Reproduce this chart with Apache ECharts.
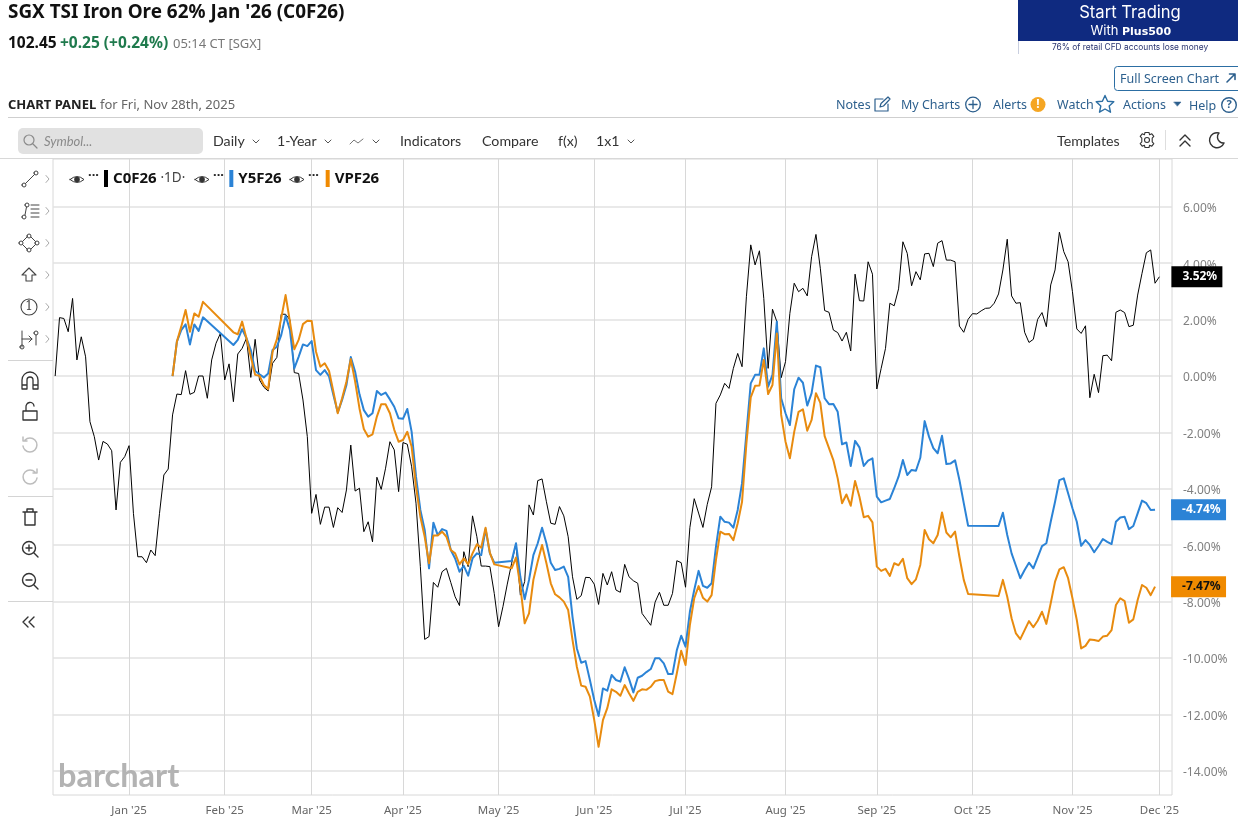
<!DOCTYPE html>
<html><head><meta charset="utf-8">
<style>html,body{margin:0;padding:0;background:#fff}#c{width:1238px;height:818px}</style>
<script src="https://cdn.jsdelivr.net/npm/echarts@6/dist/echarts.min.js"></script>
</head><body><div id="c"></div>
<script>
const monthTickIndex=[17,39,59,80,102,124,145,168,189,211,234,254];
const monthTickLabels=["Jan '25","Feb '25","Mar '25","Apr '25","May '25","Jun '25","Jul '25","Aug '25","Sep '25","Oct '25","Nov '25","Dec '25"];
const percentTicks=[-14,-12,-10,-8,-6,-4,-2,0,2,4,6];
const seriesNames=['C0F26','Y5F26','VPF26'];
const c0f26=[0,2.07,2.04,1.57,2.75,0.57,1.39,0.68,-1.62,-2.15,-2.98,-2.32,-2.41,-2.65,-4.75,-3.06,-2.86,-2.47,-4.87,-6.41,-6.41,-6.62,-6.17,-6.37,-4.87,-3.51,-3.30,-1.38,-0.64,-0.66,0.19,-0.65,-0.58,0,0,-0.79,0.57,1.16,1.51,-0.14,0.43,-0.91,0.78,0.98,1.34,-0.05,1.30,-0.14,-0.40,-0.53,0.45,0.66,2.19,2.19,1.99,0.12,0.09,-0.85,-2.15,-4.87,-4.20,-5.26,-4.65,-4.65,-5.37,-4.67,-4.84,-4.04,-2.45,-4.08,-3.98,-5.52,-5.17,-5.88,-3.59,-4.02,-3.27,-2.33,-2.62,-4.10,-2.36,-2.42,-3.22,-4.51,-6.76,-9.34,-9.24,-7.32,-7.49,-6.94,-6.82,-7.32,-7.83,-8.14,-6.23,-6.76,-4.96,-5.70,-6.74,-6.74,-6.76,-7.71,-8.89,-8.18,-7.38,-6.64,-5.93,-7.77,-7.29,-4.57,-4.93,-3.71,-3.65,-4.46,-5.22,-5.26,-4.63,-4.96,-5.70,-7.12,-7.92,-7.79,-7.14,-7.15,-7.38,-8.10,-7.00,-7.41,-6.94,-7.59,-7.67,-6.68,-7.12,-7.26,-7.35,-8.42,-8.63,-8.84,-8.02,-7.67,-8.13,-8.13,-7.71,-6.55,-6.62,-7.49,-5.37,-4.35,-4.86,-5.37,-4.55,-3.93,-0.97,-0.67,-0.26,-0.44,0.27,0.80,0.33,2.81,4.65,3.94,4.44,2.75,0.27,2.37,1.93,-0.06,0.51,2.22,3.29,2.99,3.11,2.84,4.23,5.02,3.82,2.32,2.26,1.63,1.54,1.24,1.55,0.89,3.61,2.67,2.66,4.05,3.61,-0.46,0.27,0.98,2.58,2.49,3.09,4.76,4.35,3.20,3.70,3.41,4.33,4.35,3.88,4.71,4.80,4.11,4.11,4.05,1.77,1.55,2.01,2.21,2.20,2.31,2.40,2.41,2.58,2.91,3.76,4.85,2.84,2.58,2.60,1.55,1.19,1.30,2.01,2.25,1.75,3.23,3.76,5.10,4.41,4.05,2.99,1.67,1.51,1.78,-0.77,0.06,-0.59,0.72,0.74,0.54,2.26,2.34,2.25,1.75,1.80,2.87,3.64,4.37,4.47,3.29,3.52];
const y5f26=[null,null,null,null,null,null,null,null,null,null,null,null,null,null,null,null,null,null,null,null,null,null,null,null,null,null,null,0,1.22,1.63,1.83,1.12,1.83,1.60,2.08,null,null,null,null,null,null,1.10,1.28,1.66,1.34,0.92,0.18,0.06,-0.05,0.09,0.92,1.04,1.45,2.14,1.63,0.27,0.68,1.12,1.06,1.24,0.21,0.04,0.21,-0.02,-0.67,-1.29,-0.85,-0.32,0.67,0.15,-0.65,-1.21,-1.44,-1.32,-0.53,-0.67,-0.59,-0.83,-1.09,-1.50,-1.52,-1.17,-1.98,-3.57,-4.75,-5.46,-6.82,-5.20,-5.64,-5.43,-5.49,-6.17,-6.47,-6.94,-6.73,-7.08,-6.47,-6.29,-6.35,-5.43,-6.29,-6.62,null,null,null,-6.56,-5.93,-7.12,-7.92,-7.23,-6.35,-5.93,-5.38,-5.93,-6.62,-6.88,-6.84,-6.76,-7.12,-8.54,-9.66,-10.17,-10.11,-10.78,-11.49,-12.06,-11.08,-11.16,-10.60,-10.78,-10.84,-10.33,-10.74,-11.22,-10.70,-10.63,-10.50,-10.39,-10.01,-10.01,-10.19,-10.57,-10.57,-9.72,-9.21,-9.60,-8.36,-7.59,-6.91,-7.44,-7.51,-7.35,-6.05,-4.99,-5.17,-5.20,-5.38,-4.75,-3.80,-2.03,-0.26,0.04,0.04,0.98,-0.38,0.04,1.93,-0.79,-1.32,-1.74,-0.47,-0.06,-0.24,-1.05,-0.61,0.37,0.31,-0.79,-1.00,-0.99,-1.27,-2.42,-2.36,-3.19,-2.30,-2.53,-3.19,-3.00,-2.92,-4.28,-4.48,-4.42,-4.36,-3.98,-3.57,-2.98,-3.51,-3.33,-3.36,-2.90,-1.60,-2.15,-2.56,-2.74,-2.12,-3.12,-3.10,-2.99,-3.69,-4.51,-5.31,null,null,null,null,null,null,-5.32,-4.85,-5.64,-6.29,-6.73,-7.17,-6.88,-6.62,-6.82,-6.43,-6.03,-5.93,-5.17,-4.46,-3.69,-3.63,-4.16,-4.69,-5.17,-6.02,-5.82,-5.99,-6.25,-6.03,-5.78,-5.88,-5.96,-5.17,-5.02,-4.99,-5.43,-5.32,-4.87,-4.42,-4.51,-4.75,-4.74];
const vpf26=[null,null,null,null,null,null,null,null,null,null,null,null,null,null,null,null,null,null,null,null,null,null,null,null,null,null,null,0,1.22,1.75,2.34,1.57,2.22,2.10,2.63,null,null,null,null,null,null,1.55,1.48,1.93,1.34,0.68,0.04,0.01,-0.32,-0.46,0.85,1.30,2.05,2.87,1.93,0.95,1.28,1.84,1.96,1.95,0.86,0.33,0.45,0.18,-0.56,-1.32,-0.79,-0.20,0.60,-0.20,-1.15,-1.88,-2.15,-2.07,-1.44,-1.00,-1.00,-1.32,-1.91,-2.33,-2.27,-1.98,-2.51,-3.93,-4.99,-5.70,-6.64,-5.66,-5.66,-5.52,-5.70,-6.17,-6.29,-6.68,-6.47,-6.68,-6.29,-5.97,-6.09,-5.38,-6.27,-6.68,null,null,null,-6.82,-6.44,-7.47,-8.77,-8.42,-7.23,-6.58,-5.99,-6.64,-7.35,-7.74,-7.85,-8.00,-8.30,-9.36,-10.31,-10.98,-11.02,-11.37,-12.20,-13.15,-12.20,-11.78,-11.11,-11.20,-11.34,-10.96,-11.25,-11.52,-11.20,-11.11,-11.13,-11.02,-10.82,-10.78,-10.78,-11.19,-11.28,-10.54,-9.74,-10.25,-8.83,-7.88,-7.45,-7.86,-8.00,-7.77,-6.52,-5.52,-5.61,-5.60,-5.82,-5.22,-4.46,-2.39,-0.76,-0.35,-0.34,0.57,-0.64,-0.32,1.51,-1.38,-2.33,-2.92,-1.98,-1.27,-1.18,-1.94,-1.56,-0.61,-0.95,-2.13,-2.56,-2.98,-3.63,-4.51,-4.20,-4.60,-3.72,-4.28,-5.01,-4.96,-5.19,-6.76,-6.91,-6.84,-7.09,-6.64,-6.71,-6.48,-7.17,-7.38,-7.21,-6.70,-5.46,-5.79,-5.93,-5.64,-4.84,-5.55,-5.72,-5.52,-6.41,-7.23,-7.73,null,null,null,null,null,null,-7.80,-7.23,-7.83,-8.59,-9.13,-9.33,-9.01,-8.69,-8.91,-8.68,-8.36,-8.79,-8.06,-7.29,-6.86,-6.78,-7.17,-7.88,-8.65,-9.66,-9.57,-9.34,-9.36,-9.40,-9.24,-9.21,-9.01,-8.12,-7.88,-7.98,-8.75,-8.63,-7.94,-7.41,-7.51,-7.77,-7.47];

const pts=a=>a.map((v,i)=>[i,v]);
const G=[];
const F='"Noto Sans"',L='Lato';
const t=(text,x,y,font,fill,align)=>G.push({type:'text',silent:true,z:10,style:{text,x,y,font,fill:fill||'#222',textAlign:align||'left',textVerticalAlign:'middle'}});
const r=(x,y,w,h,fill,rad,stroke)=>G.push({type:'rect',silent:true,z:9,shape:{x,y,width:w,height:h,r:rad||0},style:{fill:fill||'none',stroke:stroke||null,lineWidth:1}});
let icN=0;
const ic=(d,x,y,stroke,lw,fill)=>{
  const name='tool'+(icN++);
  echarts.graphic.registerShape(name,echarts.graphic.extendPath(d,{}));
  G.push({type:name,silent:true,z:10,x,y,shape:{},style:{fill:fill||'none',stroke:stroke===undefined?'#333':stroke,lineWidth:lw||1.2,lineCap:'round',lineJoin:'round'}});
};
const o=(cx,cy,rd)=>`M${cx-rd} ${cy}A${rd} ${rd} 0 1 0 ${cx+rd} ${cy}A${rd} ${rd} 0 1 0 ${cx-rd} ${cy}Z`;

// header
t("SGX TSI Iron Ore 62% Jan '26 (C0F26)",8,13,'bold 18.9px '+F,'#111');
t('102.45',8,44,'bold 15.5px '+F,'#111');
t('+0.25 (+0.24%)',60,44,'bold 15.5px '+F,'#1f7a4d');
t('05:14 CT [SGX]',173,44,'13px '+F,'#777');
t('CHART PANEL',8,105,'bold 13px '+F,'#222');
t('for Fri, Nov 28th, 2025',100,105,'13px '+F,'#666');
// banner
r(1018,0,220,41,'#0f2a80');
r(1018,41,1,13,'#c9cfe0');
t('Start Trading',1130,13,'16.6px Inter','#fff','center');
t('With',1090.5,31,'13px Inter','#fff');
t('Plus500',1122,32,'bold 11px "DejaVu Sans"','#fff');
t('76% of retail CFD accounts lose money',1130,47.5,'8.4px Inter','#2a3570','center');
// link row
const link='#2c5f8d',lf='12.5px '+F;
r(1114.5,66.5,130,24,'#fff',3,'#2c6ea3');
t('Full Screen Chart',1120,79,lf,link);
ic('M0 8L8 0M2.5 0H8V5.5',1227,74,link,1.6);
t('Notes',836,105.5,lf,link);
ic('M0 2H8M0 2V14H13V7M5 10L6 6.5L13 0L15 2L8.5 9Z',875,97,link,1.2);
t('My Charts',901,105.5,lf,link);
ic(o(973,104.5,7.3)+'M969 104.5H977M973 100.5V108.5',0,0,link,1.3);
t('Alerts',993,105.5,lf,link);
ic(o(1038,104.5,7.5),0,0,null,0,'#f5a623');
t('!',1038,104.5,'bold 12px '+F,'#fff','center');
t('Watch',1057,105.5,lf,link);
ic('M0 -8.5L2.6 -2.8L8.8 -2.2L4.2 2L5.5 8.2L0 5L-5.5 8.2L-4.2 2L-8.8 -2.2L-2.6 -2.8Z',1105,104,'#2c6ea3',1.4);
t('Actions',1123,105.5,lf,link);
ic('M0 0H7L3.5 4Z',1174,102,link,.5,link);
t('Help',1189,106,lf,link);
ic(o(1229,105,7.3),0,0,link,1.4);
t('?',1229,105,'bold 11px '+F,link,'center');
r(8,117,1230,1,'#cfcfcf');
// toolbar
r(18,128,185,26,'#e1e1e1',5);
ic(o(29,140,5)+'M33 144L37 148',0,0,'#8a8a8a',1.2);
t('Symbol...',44,141.5,'italic 13px '+L,'#8a8a8a');
const tb='14.2px '+L;
const chev=x=>ic('M0 0L3 3L6 0',x,140,'#555',1);
t('Daily',213,141.5,tb,'#333');chev(253);
t('1-Year',277,141.5,tb,'#333');chev(325);
ic('M0 5L4 1L8 4L13 0',350,139,'#777',1);chev(373);
t('Indicators',400,141.5,tb,'#333');
t('Compare',482,141.5,tb,'#333');
t('f(x)',558,141.5,tb,'#333');
t('1x1',596,141.5,tb,'#333');chev(628);
t('Templates',1057,141.5,tb,'#333');
ic(o(0,0,2.5)+'M-2 -7.5H2L2.6 -5.2L4.8 -6.2L6.8 -3.6L5.2 -1.8V1.8L6.8 3.6L4.8 6.2L2.6 5.2L2 7.5H-2L-2.6 5.2L-4.8 6.2L-6.8 3.6L-5.2 1.8V-1.8L-6.8 -3.6L-4.8 -6.2L-2.6 -5.2Z',1147,140,'#333',1.1);
r(1165,130,1,20,'#dedede');
ic('M-5 -1L0 -6L5 -1M-5 5L0 0L5 5',1185,141,'#333',1.4);
ic('M3 -7A7.5 7.5 0 1 0 8 3A6 6 0 0 1 3 -7Z',1216,140,'#333',1.4);
r(0,158,1238,1,'#d8d8d8');
// side tools
const sc='#444';
ic(o(-6,6,2)+o(6,-6,2)+'M-4.5 4.5L4.5 -4.5',30,179,sc,1);
ic(o(-6,6,2)+o(-3,-6,2)+'M-5 4L-3.5 -4M1 -6H9M1 -2H9M1 2H9M1 6H9',30,211,sc,1);
ic(o(0,-7,2)+o(0,7,2)+o(-8,0,2)+o(8,0,2)+'M-2 -6L-6.5 -1.5M2 -6L6.5 -1.5M-6.5 1.5L-2 6M6.5 1.5L2 6',29,243,sc,1);
ic('M0 -7L7 0H3V6H-3V0H-7Z',29,275,sc,1.1);
ic(o(0,0,8),29,307,sc,1.1);
t('1',29,307,'12px "DejaVu Serif"',sc,'center');
ic('M-7 -8V8M-7 0H3M0 -3L3 0L0 3'+o(7,-6,2)+'M7 -4V6'+o(-7,8,2),29,339,sc,1);
r(8,360,45,1,'#d4d4d4');
ic('M-8 8V-1A8 8 0 0 1 8 -1V8H3V-1A3 3 0 0 0 -3 -1V8ZM-8 4H-3M3 4H8',30,381,'#333',1.3);
ic('M-7 -1H7V8H-7ZM-4 -1V-5A4 4 0 0 1 4 -6',30,412,'#333',1.3);
ic('M-5 -4A7 7 0 1 1 -7 2M-7 -7V-3H-3',30,444,'#bdbdbd',1.5);
ic('M5 -4A7 7 0 1 0 7 2M7 -7V-3H3',30,476,'#bdbdbd',1.5);
r(8,496,45,1,'#d4d4d4');
ic('M-7 -5H7M-5 -5V8H5V-5M-3 -5V-8H3V-5',30,517,'#333',1.4);
ic(o(-1,-1,6.5)+'M4 4L8 8M-4 -1H2M-1 -4V2',30,549,'#333',1.4);
ic(o(-1,-1,6.5)+'M4 4L8 8M-4 -1H2',30,581,'#333',1.4);
r(8,601,45,1,'#d4d4d4');
ic('M0 -5L-5 0L0 5M6 -5L1 0L6 5',28,622,'#333',1.4);
[179,211,243,275,307,339].forEach(y=>ic('M0 -3.5L3 0L0 3.5',46,y,'#aaa',1));
// legend extras
[77,202,297].forEach(x=>{
  ic('M-7 0Q0 -6 7 0Q0 6 -7 0Z',x,179.5,'#333',1);
  ic(o(0,0,2.8),x,179.5,null,0,'#333');
  t('···',x+11,175,'bold 13px '+F,'#222');
});
// watermark
t('barchart',58,777,'bold 32.5px '+L,'#b3b3b3');

const line=(name,data,color,width,endBg,endFg,off,wd)=>({
  name,type:'line',data:pts(data),showSymbol:false,symbol:'none',connectNulls:true,
  lineStyle:{color,width,join:'round'},itemStyle:{color:endBg},z:3,
  endLabel:{show:true,align:'left',verticalAlign:'middle',offset:[off,0],color:endFg,backgroundColor:endBg,
    fontFamily:F,fontWeight:'bold',fontSize:12,padding:[0,0,0,11],width:wd,height:21,lineHeight:21,
    formatter:p=>p.value[1].toFixed(2)+'%'}
});

const chart=echarts.init(document.getElementById('c'),null,{renderer:'canvas'});
chart.setOption({
  animation:false,backgroundColor:'#fff',
  grid:{left:53,right:66,top:159,bottom:23,show:true,borderColor:'#d8d8d8',borderWidth:1,backgroundColor:'transparent'},
  legend:{left:104,top:170,padding:0,icon:'rect',itemWidth:4,itemHeight:17,itemGap:44,selectedMode:false,data:seriesNames,
    textStyle:{fontFamily:F,fontSize:15,fontWeight:'bold',color:'#111',
      rich:{n:{fontFamily:F,fontSize:13.5,color:'#444',fontWeight:'normal'}}},
    formatter:n=>n===seriesNames[0]?n+' {n|·1D·}':n},
  xAxis:{type:'value',min:-0.5,max:256.9,
    axisLine:{show:false},
    axisTick:{show:true,customValues:monthTickIndex,length:3,lineStyle:{color:'#d4d4d4'}},
    splitLine:{show:true,lineStyle:{color:'#d8d8d8',width:1}},
    axisLabel:{customValues:monthTickIndex,color:'#666',fontFamily:F,fontSize:11.5,margin:10,
      formatter:v=>monthTickLabels[monthTickIndex.indexOf(v)]||''}},
  yAxis:{type:'value',position:'right',min:-14.858,max:7.695,
    axisLine:{show:false},axisTick:{show:false,customValues:percentTicks},
    splitLine:{show:true,lineStyle:{color:'#e2e2e2',width:1.5}},
    axisLabel:{customValues:percentTicks,margin:11,align:'left',
      rich:{p:{color:'#808080',fontFamily:F,fontSize:12,padding:[4,0,0,0]}},
      formatter:v=>'{p|'+v.toFixed(2)+'%}'}},
  series:[
    line(seriesNames[0],c0f26,'#000',1,'#000','#fff',4,40),
    line(seriesNames[1],y5f26,'#2b83d6',2,'#2b83d6','#fff',8,44),
    line(seriesNames[2],vpf26,'#e88b0f',2,'#f08a00','#111',8,44)
  ],
  graphic:{elements:G}
});
</script></body></html>
